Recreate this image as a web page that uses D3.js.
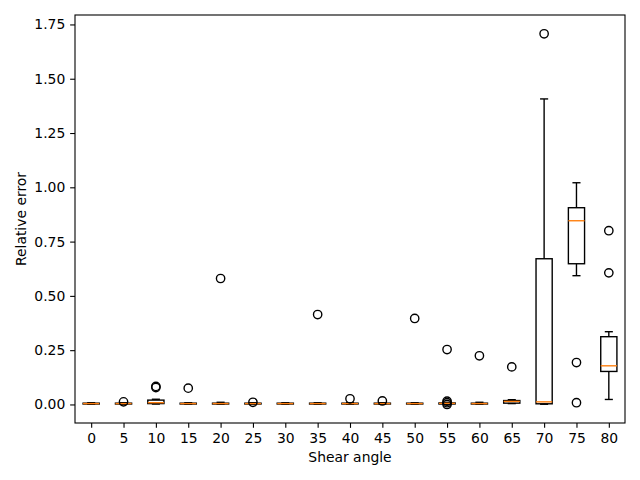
<!DOCTYPE html>
<html>
<head>
<meta charset="utf-8">
<script src="https://cdn.jsdelivr.net/npm/d3@7"></script>
<style>
    body { margin: 0; background: #fff; }
    svg { display: block; font-family: "DejaVu Sans", sans-serif; }
</style>
</head>
<body>
<div id="chart"></div>
<script>
    // shear angles (categories)
    const angles = [0, 5, 10, 15, 20, 25, 30, 35, 40, 45, 50, 55, 60, 65, 70, 75, 80];
    // box statistics
    const q1s =      [0.002, 0.002, 0.004, 0.002, 0.002, 0.002, 0.002, 0.002, 0.002, 0.002, 0.002, 0.002, 0.002, 0.006, 0.003, 0.648, 0.152];
    const medians =  [0.004, 0.004, 0.008, 0.004, 0.004, 0.004, 0.004, 0.004, 0.004, 0.004, 0.004, 0.005, 0.004, 0.014, 0.012, 0.846, 0.178];
    const q3s =      [0.006, 0.006, 0.020, 0.006, 0.006, 0.006, 0.006, 0.006, 0.006, 0.006, 0.006, 0.007, 0.006, 0.018, 0.671, 0.906, 0.312];
    const loWhisk =  [0.001, 0.001, 0.002, 0.001, 0.001, 0.001, 0.001, 0.001, 0.001, 0.001, 0.001, 0.001, 0.001, 0.004, 0.001, 0.593, 0.023];
    const hiWhisk =  [0.008, 0.008, 0.024, 0.008, 0.010, 0.008, 0.008, 0.008, 0.008, 0.008, 0.008, 0.010, 0.010, 0.022, 1.407, 1.021, 0.335];
    const outliers = [
        [], [0.012], [0.078, 0.083], [0.075], [0.580], [0.010], [], [0.414],
        [0.026], [0.016], [0.396], [0.253, 0.015, 0.008, 0.000], [0.224], [0.173],
        [1.707], [0.193, 0.008], [0.800, 0.606]
    ];
    const yTicks = [0, 0.25, 0.5, 0.75, 1.0, 1.25, 1.5, 1.75];

    const width = 640, height = 480;
    const margin = {left: 75, right: 15, top: 15, bottom: 57};
    const fontSize = 13.9;

    const svg = d3.select("#chart").append("svg")
        .attr("width", width)
        .attr("height", height);

    const x = d3.scaleLinear()
        .domain([0.5, angles.length + 0.5])
        .range([margin.left, width - margin.right]);
    const y = d3.scaleLinear()
        .domain([-0.0854, 1.7935])
        .range([height - margin.bottom, margin.top]);

    const unit = x(2) - x(1);
    const boxW = 0.5 * unit, capW = 0.25 * unit;
    const lw = 1.39;

    const data = angles.map((a, i) => ({
        a, pos: i + 1,
        q1: q1s[i], med: medians[i], q3: q3s[i],
        lo: loWhisk[i], hi: hiWhisk[i], fl: outliers[i]
    }));

    const g = svg.append("g");

    const boxes = g.selectAll("g.box").data(data).enter().append("g").attr("class", "box");

    // whiskers
    boxes.append("line")
        .attr("x1", d => x(d.pos)).attr("x2", d => x(d.pos))
        .attr("y1", d => y(d.q1)).attr("y2", d => y(d.lo))
        .attr("stroke", "#000").attr("stroke-width", lw);
    boxes.append("line")
        .attr("x1", d => x(d.pos)).attr("x2", d => x(d.pos))
        .attr("y1", d => y(d.q3)).attr("y2", d => y(d.hi))
        .attr("stroke", "#000").attr("stroke-width", lw);
    // caps
    ["lo", "hi"].forEach(k => {
        boxes.append("line")
            .attr("x1", d => x(d.pos) - capW / 2).attr("x2", d => x(d.pos) + capW / 2)
            .attr("y1", d => y(d[k])).attr("y2", d => y(d[k]))
            .attr("stroke", "#000").attr("stroke-width", lw);
    });
    // box
    boxes.append("rect")
        .attr("x", d => x(d.pos) - boxW / 2)
        .attr("width", boxW)
        .attr("y", d => y(d.q3))
        .attr("height", d => Math.max(0, y(d.q1) - y(d.q3)))
        .attr("fill", "none").attr("stroke", "#000").attr("stroke-width", lw);
    // median
    boxes.append("line")
        .attr("x1", d => x(d.pos) - boxW / 2).attr("x2", d => x(d.pos) + boxW / 2)
        .attr("y1", d => y(d.med)).attr("y2", d => y(d.med))
        .attr("stroke", "#ff7f0e").attr("stroke-width", lw);
    // fliers
    boxes.selectAll("circle")
        .data(d => d.fl.map(v => ({pos: d.pos, v})))
        .enter().append("circle")
        .attr("cx", d => x(d.pos)).attr("cy", d => y(d.v))
        .attr("r", 4.17)
        .attr("fill", "none").attr("stroke", "#000").attr("stroke-width", lw);

    // axes
    const xAxis = d3.axisBottom(x)
        .tickValues(data.map(d => d.pos))
        .tickFormat((d, i) => angles[i])
        .tickSize(4.86).tickPadding(4.86);
    const yAxis = d3.axisLeft(y)
        .tickValues(yTicks)
        .tickFormat(d3.format(".2f"))
        .tickSize(4.86).tickPadding(4.86);

    const gx = svg.append("g")
        .attr("transform", `translate(0,${height - margin.bottom})`)
        .call(xAxis);
    const gy = svg.append("g")
        .attr("transform", `translate(${margin.left},0)`)
        .call(yAxis);
    [gx, gy].forEach(ax => {
        ax.select(".domain").remove();
        ax.selectAll(".tick line").attr("stroke", "#000").attr("stroke-width", 1.1);
        ax.selectAll(".tick text")
            .attr("fill", "#000")
            .style("font-size", fontSize + "px")
            .style("font-family", "DejaVu Sans, sans-serif");
    });

    // frame
    svg.append("rect")
        .attr("x", margin.left).attr("y", margin.top)
        .attr("width", width - margin.left - margin.right)
        .attr("height", height - margin.top - margin.bottom)
        .attr("fill", "none").attr("stroke", "#000").attr("stroke-width", 1.1);

    // labels
    svg.append("text")
        .attr("x", (margin.left + width - margin.right) / 2)
        .attr("y", 462)
        .attr("text-anchor", "middle")
        .style("font-size", fontSize + "px")
        .text("Shear angle");
    svg.append("text")
        .attr("transform", `translate(26,${(margin.top + height - margin.bottom) / 2}) rotate(-90)`)
        .attr("text-anchor", "middle")
        .style("font-size", fontSize + "px")
        .text("Relative error");
</script>
</body>
</html>
